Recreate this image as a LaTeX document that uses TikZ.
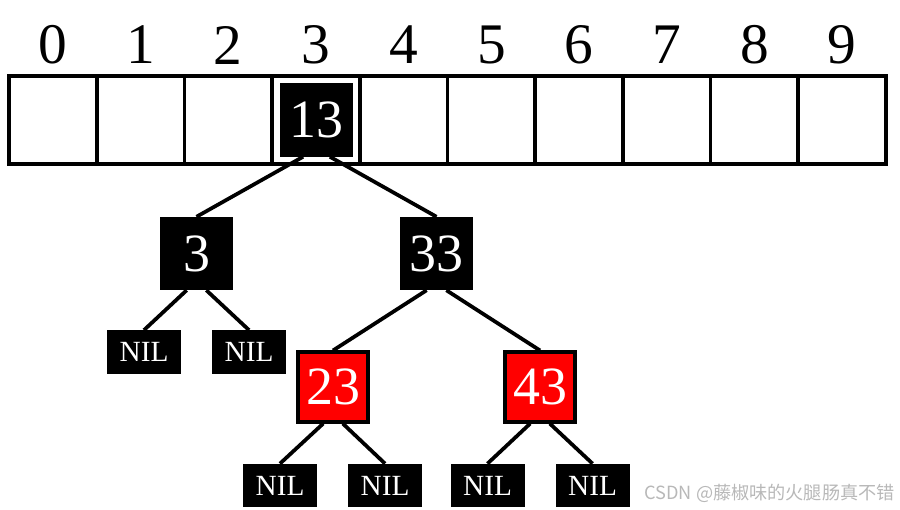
\documentclass[tikz,border=0pt]{standalone}
\usepackage{fontspec}
\setmainfont{Liberation Serif}
\newfontfamily\cjkfont{Noto Sans CJK SC}

\tikzset{
  blknode/.style={fill=black, text=white, inner sep=0pt, minimum width=2.19cm, minimum height=2.19cm, font=\fontsize{46}{50}\selectfont},
  rednode/.style={blknode, fill=red, draw=black, line width=3.2pt, minimum width=2.08cm, minimum height=2.08cm},
  nilnode/.style={fill=black, text=white, inner sep=0pt, minimum width=2.22cm, minimum height=1.3cm, font=\fontsize{25}{28}\selectfont},
  link/.style={line width=3.2pt}
}

\begin{document}
\begin{tikzpicture}[x=0.03cm, y=-0.03cm]

\useasboundingbox (0,0) rectangle (900,510);

% array with index
\foreach \i in {0,...,9} {
  \draw[line width=3.2pt] (9+87.7*\i,76) rectangle ++(87.7,88);
  \node[font=\fontsize{49}{52}\selectfont, inner sep=0pt] (idx\i) at (9+87.7*\i+43.85,45) {\i};
}

% tree
\node[blknode] (n13) at (316.5,120) {13};
\node[blknode] (n3) at (196.5,253.5) {3};
\node[blknode] (n33) at (436.5,253.5) {33};
\node[rednode] (n23) at (333,387) {23};
\node[rednode] (n43) at (540,387) {43};

% leaves
\node[nilnode] (nilA) at (144,352) {NIL};
\node[nilnode] (nilB) at (249,352) {NIL};
\node[nilnode] (nilC) at (280,485.5) {NIL};
\node[nilnode] (nilD) at (385,485.5) {NIL};
\node[nilnode] (nilE) at (487.5,485.5) {NIL};
\node[nilnode] (nilF) at (592.5,485.5) {NIL};

% links
\draw[link] (n13.250) -- (n3.north);
\draw[link] (n13.290) -- (n33.north);
\draw[link] (n3.255) -- (nilA.north);
\draw[link] (n3.285) -- (nilB.north);
\draw[link] (n33.255) -- (n23.north);
\draw[link] (n33.285) -- (n43.north);
\draw[link] (n23.255) -- (nilC.north);
\draw[link] (n23.285) -- (nilD.north);
\draw[link] (n43.255) -- (nilE.north);
\draw[link] (n43.285) -- (nilF.north);

\node[anchor=east, text=black!28, font=\cjkfont\fontsize{15.5}{18}\selectfont, inner sep=0pt] (mark) at (895,493) {CSDN @藤椒味的火腿肠真不错};

\end{tikzpicture}
\end{document}
